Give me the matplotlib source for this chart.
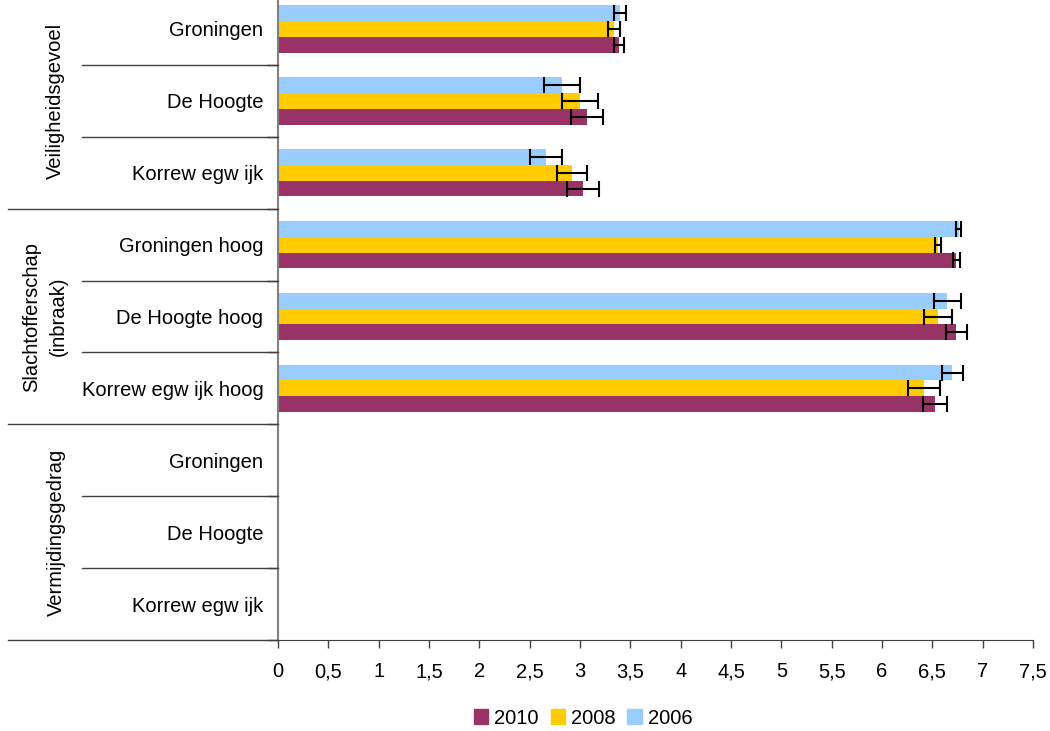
import matplotlib
matplotlib.use("Agg")
import matplotlib.pyplot as plt
import matplotlib.transforms as mtransforms
from matplotlib.lines import Line2D
from matplotlib.patches import Patch
import numpy as np

plt.rcParams['font.family'] = ['Liberation Sans', 'DejaVu Sans']

categories = ["Groningen", "De Hoogte", "Korrew egw ijk",
              "Groningen hoog", "De Hoogte hoog", "Korrew egw ijk hoog",
              "Groningen", "De Hoogte", "Korrew egw ijk"]
groups = ["Veiligheidsgevoel", "Slachtofferschap\n(inbraak)", "Vermijdingsgedrag"]

v2010 = [3.39, 3.07, 3.03, 6.74, 6.74, 6.53, np.nan, np.nan, np.nan]
e2010 = [0.05, 0.16, 0.16, 0.03, 0.105, 0.12, np.nan, np.nan, np.nan]
v2008 = [3.34, 3.00, 2.92, 6.56, 6.56, 6.42, np.nan, np.nan, np.nan]
e2008 = [0.06, 0.18, 0.145, 0.03, 0.14, 0.16, np.nan, np.nan, np.nan]
v2006 = [3.40, 2.82, 2.66, 6.76, 6.65, 6.70, np.nan, np.nan, np.nan]
e2006 = [0.06, 0.18, 0.16, 0.02, 0.13, 0.10, np.nan, np.nan, np.nan]

xticks = [0, 0.5, 1, 1.5, 2, 2.5, 3, 3.5, 4, 4.5, 5, 5.5, 6, 6.5, 7, 7.5]
xticklabels = ["0", "0,5", "1", "1,5", "2", "2,5", "3", "3,5", "4", "4,5",
               "5", "5,5", "6", "6,5", "7", "7,5"]

FS = 14.5
W, H = 1050, 731
fig = plt.figure(figsize=(W / 100, H / 100), dpi=100)
ax = fig.add_axes([278 / W, (H - 640) / H, (1033 - 278) / W, (640 + 7) / H])

y = np.arange(len(categories))
bh = 0.22
c2010, c2008, c2006 = "#993366", "#FFCC00", "#99CCFF"
ekw = dict(ecolor="black", elinewidth=1.5, capsize=6, capthick=1.5)
ax.barh(y + bh, v2010, height=bh, color=c2010, xerr=e2010, error_kw=ekw, label="2010")
ax.barh(y, v2008, height=bh, color=c2008, xerr=e2008, error_kw=ekw, label="2008")
ax.barh(y - bh, v2006, height=bh, color=c2006, xerr=e2006, error_kw=ekw, label="2006")

ax.set_xlim(0, 7.5)
ax.set_ylim(len(categories) - 0.5, -0.5)
ax.set_xticks(xticks)
ax.set_xticklabels(xticklabels, fontsize=FS)
ax.set_yticks(y)
ax.set_yticklabels(categories, fontsize=FS)
ax.tick_params(axis="y", which="major", length=0, pad=10.5)
ax.set_yticks(np.arange(len(categories) + 1) - 0.5, minor=True)
ax.tick_params(axis="y", which="minor", length=8, width=1, color="#404040", direction="out")
ax.tick_params(axis="x", which="major", length=6, width=1, color="#404040", direction="out", pad=10)

for s in ["top", "right"]:
    ax.spines[s].set_visible(False)
ax.spines["left"].set_color("#808080")
ax.spines["left"].set_linewidth(1.5)
ax.spines["bottom"].set_color("#404040")

trans = mtransforms.blended_transform_factory(fig.transFigure, ax.transData)
for b in [0.5, 1.5, 3.5, 4.5, 6.5, 7.5]:
    fig.add_artist(Line2D([82 / W, 278 / W], [b, b], transform=trans, color="#404040", lw=1))
for b in [2.5, 5.5, 8.5]:
    fig.add_artist(Line2D([8 / W, 278 / W], [b, b], transform=trans, color="#404040", lw=1))

gx = [55, 45, 56]
gy = [1, 4, 7]
for i, g in enumerate(groups):
    fig.text(gx[i] / W, gy[i], g, transform=trans, rotation=90, ha="center", va="center",
             fontsize=FS, multialignment="center", linespacing=1.55)

handles = [Patch(color=c2010, label="2010"), Patch(color=c2008, label="2008"),
           Patch(color=c2006, label="2006")]
fig.legend(handles=handles, loc="center", bbox_to_anchor=(583 / W, (H - 718) / H),
           ncol=3, frameon=False, fontsize=FS, handlelength=0.7, handleheight=0.7,
           handletextpad=0.3, columnspacing=0.6)

fig.savefig("out.png", dpi=100)
